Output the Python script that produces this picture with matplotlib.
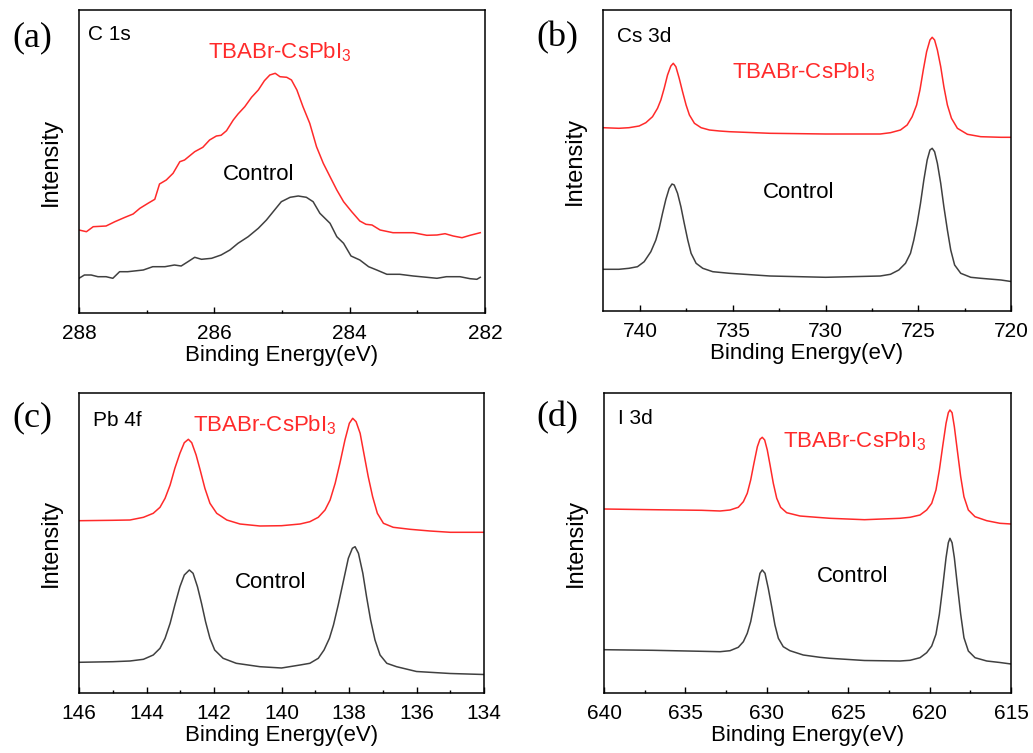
import matplotlib
matplotlib.use("Agg")
import matplotlib.pyplot as plt
from matplotlib.ticker import MultipleLocator

plt.rcParams['font.family'] = ['Liberation Sans', 'DejaVu Sans']
plt.rcParams['mathtext.fontset'] = 'custom'
plt.rcParams['mathtext.rm'] = 'Liberation Sans'
plt.rcParams['mathtext.it'] = 'Liberation Sans'

RED = '#ff2a2a'
GRAY = '#404040'

# (a) C 1s
c1s_ev = [288.0, 287.89, 287.79, 287.6, 287.47, 287.32, 287.2, 287.1, 286.98, 286.88,
          286.81, 286.71, 286.61, 286.51, 286.44, 286.29, 286.17, 286.07, 285.97, 285.9,
          285.82, 285.72, 285.65, 285.55, 285.45, 285.35, 285.26, 285.18, 285.1, 285.03,
          284.93, 284.86, 284.78, 284.69, 284.59, 284.49, 284.39, 284.29, 284.19, 284.09,
          283.97, 283.85, 283.76, 283.67, 283.55, 283.36, 283.21, 283.06, 282.86, 282.71,
          282.59, 282.47, 282.34, 282.22, 282.07]
c1s_tba = [83, 81.3, 86.3, 87, 91.3, 95.7, 99, 104.7, 109.7, 113.7,
           129, 133, 139.7, 151.3, 153, 161.3, 165.7, 173, 177, 177.7,
           182.3, 193, 199, 206.3, 215.7, 223, 232.3, 238, 239.7, 236.3,
           235.7, 233, 223, 206.3, 189.7, 166.3, 149.7, 136.3, 123, 111.3,
           101.3, 92, 88.7, 88, 83, 80.3, 80.3, 80.3, 77.7, 78,
           79.3, 77, 75.3, 77.7, 80.3]
c1s_ev_c = [288.0, 287.92, 287.82, 287.72, 287.6, 287.5, 287.4, 287.28, 287.05, 286.91,
            286.73, 286.59, 286.49, 286.39, 286.29, 286.19, 286.04, 285.9, 285.77, 285.65,
            285.5, 285.35, 285.23, 285.11, 285.01, 284.88, 284.76, 284.64, 284.54, 284.44,
            284.29, 284.19, 284.09, 283.98, 283.85, 283.72, 283.6, 283.45, 283.26, 283.06,
            282.86, 282.71, 282.57, 282.37, 282.22, 282.12, 282.07]
c1s_ctrl = [34.7, 38, 38, 36.3, 36.3, 34.7, 41.3, 41.3, 43, 46.3,
            46.3, 48, 47, 51.3, 55.7, 53.7, 54.7, 58, 63, 69.7,
            76.3, 84.7, 93, 103, 111.3, 115.7, 117, 115.7, 111.3, 99.7,
            89.7, 76.3, 69.7, 57, 53, 46.3, 43, 38.7, 38.7, 37,
            35.7, 34.7, 36.3, 36.3, 34.3, 33.7, 35.7]

# (b) Cs 3d
cs_ev = [742.0, 741.14, 740.6, 740.05, 739.69, 739.33, 739.06, 738.88, 738.7, 738.52,
         738.34, 738.21, 738.07, 737.89, 737.71, 737.52, 737.34, 737.07, 736.71, 736.26,
         735.72, 735.18, 733.0, 730.0, 727.05, 726.5, 725.96, 725.6, 725.33, 725.09,
         724.91, 724.73, 724.55, 724.37, 724.25, 724.12, 723.97, 723.79, 723.62, 723.43,
         723.21, 722.89, 722.35, 721.63, 720.54, 720.0]
cs_tba = [183.3, 182.7, 183.3, 185, 188.3, 194.3, 202.7, 211, 222.7, 236,
          245, 247.7, 244.3, 232.7, 219.3, 206, 196, 187.7, 183.3, 181,
          180, 179.3, 177.7, 177, 177, 178.3, 181, 186, 194.3, 206,
          221, 241, 259.3, 271, 273.7, 271, 261, 244.3, 224.3, 206,
          192.7, 182.7, 176.7, 174.3, 173.7, 173.7]
cs_ev_c = [742.0, 741.14, 740.6, 740.14, 739.78, 739.42, 739.15, 738.97, 738.79, 738.61,
           738.43, 738.28, 738.16, 737.98, 737.8, 737.62, 737.43, 737.25, 736.98, 736.62,
           736.08, 735.18, 733.0, 730.0, 727.05, 726.5, 726.05, 725.69, 725.42, 725.24,
           725.06, 724.88, 724.7, 724.52, 724.37, 724.25, 724.12, 723.97, 723.79, 723.62,
           723.43, 723.25, 723.04, 722.71, 722.17, 721.63, 720.54, 720.0]
cs_ctrl = [41.7, 41.7, 42.7, 44.3, 49.3, 59.3, 71, 82.7, 97.7, 111.7,
           122.7, 127, 126, 117.7, 104.3, 87.7, 71, 57.7, 47.7, 42.7,
           39.3, 37.7, 35, 33.7, 35, 36.7, 41, 47.7, 57.7, 71,
           87.7, 107.7, 131, 151, 161, 162.7, 159.3, 147.7, 127.7, 104.3,
           81, 61, 46, 37.7, 33.7, 32.7, 31, 29.5]

# (c) Pb 4f
pb_ev = [146.0, 145.0, 144.49, 144.09, 143.8, 143.6, 143.45, 143.3, 143.16, 143.01,
         142.88, 142.76, 142.66, 142.53, 142.41, 142.27, 142.12, 141.92, 141.62, 141.23,
         140.64, 140.0, 139.45, 139.16, 138.91, 138.71, 138.56, 138.41, 138.27, 138.12,
         137.99, 137.89, 137.79, 137.67, 137.56, 137.43, 137.3, 137.16, 136.98, 136.69,
         136.19, 135.6, 135.0, 134.0]
pb_tba = [172.3, 172.7, 173, 175.7, 179.7, 185.7, 194.7, 208, 224.7, 239.7,
          250.3, 253.7, 250.3, 238, 223, 204.7, 189.7, 179.7, 173, 169,
          167, 167.3, 169, 171.3, 175.7, 183, 193, 209.7, 229.7, 253,
          269.7, 274.7, 271.3, 259.7, 239.7, 216.3, 196.3, 179.7, 169.7, 165.7,
          163.7, 162, 160.7, 160.7]
pb_ev_c = [146.0, 145.0, 144.49, 144.09, 143.8, 143.6, 143.45, 143.3, 143.16, 143.01,
           142.88, 142.73, 142.62, 142.49, 142.37, 142.25, 142.12, 141.98, 141.73, 141.34,
           140.64, 140.0, 139.45, 139.16, 138.91, 138.74, 138.58, 138.46, 138.32, 138.17,
           138.02, 137.9, 137.82, 137.72, 137.59, 137.48, 137.36, 137.23, 137.08, 136.88,
           136.59, 136.0, 135.0, 134.0]
pb_ctrl = [30.7, 31.3, 32, 33.7, 38, 44.7, 54.7, 69.7, 88, 106.3,
           118, 123, 119.7, 106.3, 89.7, 71.3, 54.7, 43, 34.7, 29.7,
           26.3, 25, 28, 29.7, 34.7, 43, 54.7, 68, 88, 111.3,
           134.7, 144.7, 146.3, 139.7, 119.7, 96.3, 73, 53, 38, 29.7,
           26.3, 21.5, 19.5, 18.5]

# (d) I 3d
i_ev = [640.0, 637.0, 634.0, 632.87, 632.26, 631.75, 631.44, 631.2, 630.99, 630.79,
        630.58, 630.42, 630.28, 630.13, 629.97, 629.8, 629.6, 629.39, 629.15, 628.78,
        627.96, 626.94, 626.12, 624.0, 621.82, 621.2, 620.59, 620.18, 619.87, 619.61,
        619.4, 619.2, 618.99, 618.85, 618.75, 618.62, 618.48, 618.3, 618.09, 617.89,
        617.62, 617.21, 616.49, 615.68, 615.0]
i_tba = [184, 183.3, 182.7, 182, 183, 185.7, 191.3, 199.7, 213, 229.7,
         246.3, 253.7, 255.7, 253, 243, 228, 209.7, 194.7, 185.7, 180.3,
         177, 175.7, 174.7, 173.3, 174.7, 175.7, 178, 183, 189.7, 203,
         223, 246.3, 269.7, 280.3, 283, 280.3, 266.3, 243, 216.3, 196.3,
         183, 176.3, 172.3, 169.7, 169]
i_ev_c = [640.0, 637.0, 634.0, 632.87, 632.26, 631.75, 631.44, 631.2, 630.99, 630.79,
          630.58, 630.42, 630.28, 630.11, 629.91, 629.7, 629.5, 629.29, 628.99, 628.58,
          627.76, 626.74, 626.12, 624.0, 621.82, 621.2, 620.59, 620.18, 619.87, 619.61,
          619.4, 619.2, 618.99, 618.85, 618.75, 618.62, 618.48, 618.3, 618.09, 617.89,
          617.62, 617.21, 616.49, 615.68, 615.0]
i_ctrl = [43.3, 42.7, 41.7, 41.3, 42.3, 45.7, 51.3, 59.7, 71.3, 88,
          106.3, 119.7, 123, 119.7, 104.7, 86.3, 68, 54.7, 46.3, 42.3,
          38, 35.7, 34.7, 32.5, 32, 32.7, 35.3, 40.3, 47, 58.7,
          78.7, 105.3, 135.3, 150.3, 154.7, 150.3, 135.3, 108.7, 78.7, 55.3,
          42, 35.3, 32, 30.5, 29]

panels = [
    dict(ev=c1s_ev, tba=c1s_tba, ev_c=c1s_ev_c, ctrl=c1s_ctrl, xlim=(288, 282),
         major=2, minor=1, rect=(79, 10, 406, 303), tag='(a)', core='C 1s',
         tag_xy=(12, 38), core_xy=(88, 34), red_xy=(208, 52), ctrl_xy=(223, 175)),
    dict(ev=cs_ev, tba=cs_tba, ev_c=cs_ev_c, ctrl=cs_ctrl, xlim=(742, 720),
         major=5, minor=2.5, rect=(603, 10, 408, 301), tag='(b)', core='Cs 3d',
         tag_xy=(536, 38), core_xy=(617, 36), red_xy=(732, 72), ctrl_xy=(763, 193)),
    dict(ev=pb_ev, tba=pb_tba, ev_c=pb_ev_c, ctrl=pb_ctrl, xlim=(146, 134),
         major=2, minor=1, rect=(79, 393, 405, 300), tag='(c)', core='Pb 4f',
         tag_xy=(12, 418), core_xy=(93, 421), red_xy=(193, 425), ctrl_xy=(235, 582)),
    dict(ev=i_ev, tba=i_tba, ev_c=i_ev_c, ctrl=i_ctrl, xlim=(640, 615),
         major=5, minor=2.5, rect=(604, 393, 407, 300), tag='(d)', core='I 3d',
         tag_xy=(536, 418), core_xy=(618, 419), red_xy=(783, 441), ctrl_xy=(817, 576)),
]

W, H = 1033, 753
fig = plt.figure(figsize=(W / 100, H / 100), dpi=100)

for p in panels:
    x0, y0, w, h = p['rect']
    ax = fig.add_axes([x0 / W, 1 - (y0 + h) / H, w / W, h / H])
    ax.plot(p['ev'], p['tba'], color=RED, lw=1.1)
    ax.plot(p['ev_c'], p['ctrl'], color=GRAY, lw=1.1)
    ax.set_xlim(*p['xlim'])
    ax.set_ylim(0, h)
    ax.set_yticks([])
    ax.xaxis.set_major_locator(MultipleLocator(p['major']))
    ax.xaxis.set_minor_locator(MultipleLocator(p['minor']))
    ax.tick_params(axis='x', which='major', direction='in', length=4, width=1,
                   labelsize=15, pad=8)
    ax.tick_params(axis='x', which='minor', direction='in', length=2.5, width=1)
    for s in ax.spines.values():
        s.set_linewidth(1.1)
    ax.set_xlabel('Binding Energy(eV)', fontsize=16, labelpad=1)
    ax.set_ylabel('Intensity', fontsize=17, labelpad=12)

    fig.text(p['tag_xy'][0] / W, 1 - p['tag_xy'][1] / H, p['tag'],
             family='Liberation Serif', fontsize=26, va='center', ha='left')
    fig.text(p['core_xy'][0] / W, 1 - p['core_xy'][1] / H, p['core'],
             fontsize=15, va='center', ha='left')
    fig.text(p['red_xy'][0] / W, 1 - p['red_xy'][1] / H, 'TBABr-CsPbI$_3$',
             color=RED, fontsize=16, va='center', ha='left')
    fig.text(p['ctrl_xy'][0] / W, 1 - p['ctrl_xy'][1] / H, 'Control',
             fontsize=16, va='center', ha='left')

fig.savefig('out.png', dpi=100)
